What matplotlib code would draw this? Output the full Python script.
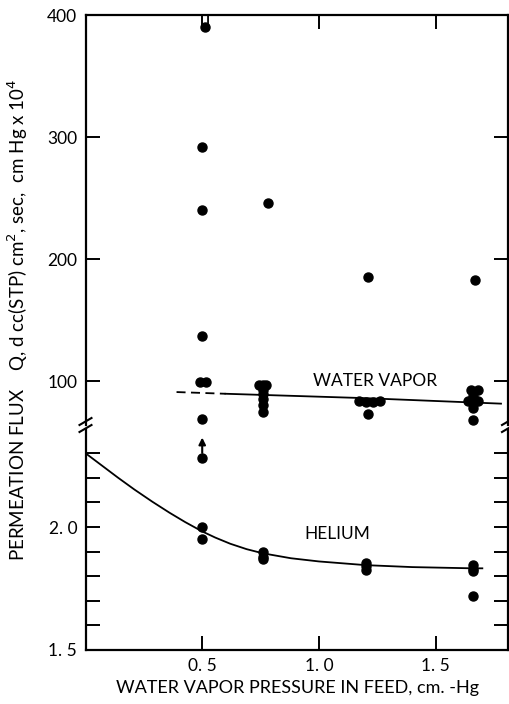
import numpy as np
import matplotlib
matplotlib.use('Agg')
import matplotlib.pyplot as plt
from matplotlib.lines import Line2D

plt.rcParams['font.family'] = ['Lato', 'DejaVu Sans']

# water vapor flux points (upper part)
wv_x = [0.51, 0.50, 0.50, 0.50, 0.49, 0.515, 0.50,
        0.78, 0.745, 0.76, 0.775, 0.76, 0.76, 0.76, 0.76, 0.76,
        1.21, 1.17, 1.20, 1.23, 1.26, 1.21,
        1.67, 1.65, 1.68, 1.66, 1.64, 1.68, 1.66, 1.66, 1.66]
wv_y = [390, 292, 240, 137, 99.5, 99.5, 69,
        246, 96.5, 96.5, 96.5, 93, 89, 85, 80, 75,
        185, 84, 83, 83, 84, 73,
        183, 92.5, 92.5, 88, 84, 84, 81, 78, 68]

# water vapor fitted line
wv_dash_x = [0.39, 0.60]
wv_dash_y = [91.0, 89.6]
wv_line_x = [0.60, 1.20, 1.78]
wv_line_y = [89.6, 86.0, 81.5]

# helium flux points (lower part)
he_x = [0.50, 0.50, 0.50, 0.76, 0.76, 0.76,
        1.20, 1.20, 1.20, 1.66, 1.66, 1.66, 1.66]
he_y = [2.28, 2.00, 1.95, 1.90, 1.88, 1.87,
        1.855, 1.84, 1.825, 1.845, 1.83, 1.82, 1.72]

# helium curve
he_cx = [0.0, 0.07, 0.14, 0.21, 0.286, 0.36, 0.427, 0.5, 0.556, 0.62,
         0.69, 0.76, 0.88, 1.0, 1.2, 1.4, 1.66, 1.70]
he_cy = [2.30, 2.25, 2.20, 2.152, 2.103, 2.058, 2.02, 1.982, 1.957, 1.932,
         1.91, 1.893, 1.873, 1.86, 1.845, 1.837, 1.832, 1.832]

W, H = 509, 704
fig = plt.figure(figsize=(W/100, H/100), dpi=100)

def fx(px):
    return px / W

def fy(py):
    return 1 - py / H

left = fx(85.5)
width = fx(508) - left
ax1 = fig.add_axes([left, fy(425), width, fy(15) - fy(425)])
ax2 = fig.add_axes([left, fy(650), width, fy(428.6) - fy(650)])

for ax in (ax1, ax2):
    ax.set_xlim(0, 1.81)
    for s in ax.spines.values():
        s.set_linewidth(1.6)
    ax.tick_params(direction='in', length=10, width=1.4, labelsize=12.5,
                   right=True, top=True, pad=6)
ax1.spines['bottom'].set_visible(False)
ax2.spines['top'].set_visible(False)
ax1.tick_params(bottom=False, labelbottom=False)
ax2.tick_params(top=False)

# upper: water vapor
ax1.set_ylim(64, 400)
ax1.set_yticks([100, 200, 300, 400])
ax1.set_xticks([0.5, 1.0, 1.5])
ax1.plot(wv_x, wv_y, 'o', color='black', ms=6.5)
ax1.plot(wv_dash_x, wv_dash_y, color='black', lw=1.3, ls=(0, (5, 3)))
ax1.plot(wv_line_x, wv_line_y, color='black', lw=1.3)
ax1.plot([0.51, 0.525, 0.525], [390, 393, 400], color='black', lw=1.3, clip_on=False)
ax1.text(1.24, 100, 'WATER VAPOR', fontsize=12.5, ha='center', va='center')

# lower: helium
ax2.set_ylim(1.5, 2.4)
ticks = np.arange(15, 24) / 10
ax2.set_yticks(ticks)
ax2.set_yticklabels(['1. 5' if abs(t - 1.5) < 1e-6 else ('2. 0' if abs(t - 2.0) < 1e-6 else '') for t in ticks])
ax2.set_xticks([0.5, 1.0, 1.5])
ax2.set_xticklabels(['0. 5', '1. 0', '1. 5'])
ax2.plot(he_cx, he_cy, color='black', lw=1.3)
ax2.plot(he_x, he_y, 'o', color='black', ms=6.5)
ax2.annotate('', xy=(0.5, 2.375), xytext=(0.5, 2.29),
             arrowprops=dict(arrowstyle='-|>', color='black', lw=1.5, mutation_scale=10))
ax2.text(1.08, 1.97, 'HELIUM', fontsize=12.5, ha='center', va='center')

# break marks on both spines
for xs in (85.5, 508):
    for y0 in (421.5, 428.5):
        fig.add_artist(Line2D([fx(xs - 6), fx(xs + 6)], [fy(y0 + 3.5), fy(y0 - 3.5)],
                              color='black', lw=1.5))

fig.text(fx(18), fy(320),
         'PERMEATION FLUX    Q, d cc(STP) cm$^2$, sec,  cm Hg x 10$^4$',
         rotation=90, ha='center', va='center', fontsize=13.5)
fig.text(fx(298), fy(688), 'WATER VAPOR PRESSURE IN FEED, cm. -Hg',
         ha='center', va='center', fontsize=13)

fig.savefig('out.png', dpi=100)
